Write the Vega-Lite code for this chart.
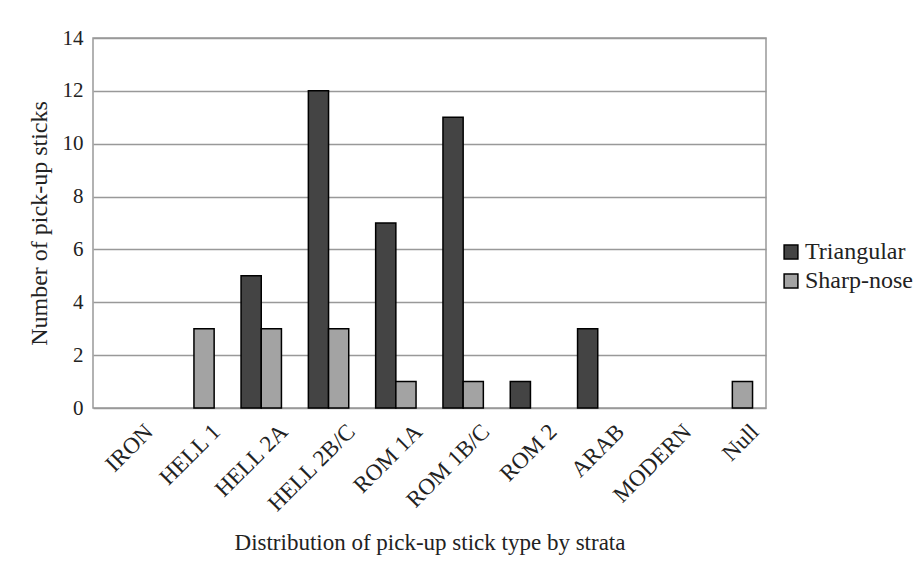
{
  "$schema": "https://vega.github.io/schema/vega-lite/v6.json",
  "width": 673,
  "height": 370,
  "autosize": {"type": "none"},
  "padding": {"left": 93, "top": 38, "right": 156, "bottom": 154},
  "background": "white",
  "config": {
    "font": "Liberation Serif",
    "view": {"stroke": "#999999", "strokeWidth": 1.5},
    "axis": {"labelFont": "Liberation Serif", "titleFont": "Liberation Serif", "labelColor": "#222", "titleColor": "#222", "titleFontWeight": "normal"},
    "legend": {"labelFont": "Liberation Serif"}
  },
  "data": {
    "values": [
      {"strata": "HELL 1", "type": "Sharp-nose", "count": 3},
      {"strata": "HELL 2A", "type": "Triangular", "count": 5},
      {"strata": "HELL 2A", "type": "Sharp-nose", "count": 3},
      {"strata": "HELL 2B/C", "type": "Triangular", "count": 12},
      {"strata": "HELL 2B/C", "type": "Sharp-nose", "count": 3},
      {"strata": "ROM 1A", "type": "Triangular", "count": 7},
      {"strata": "ROM 1A", "type": "Sharp-nose", "count": 1},
      {"strata": "ROM 1B/C", "type": "Triangular", "count": 11},
      {"strata": "ROM 1B/C", "type": "Sharp-nose", "count": 1},
      {"strata": "ROM 2", "type": "Triangular", "count": 1},
      {"strata": "ARAB", "type": "Triangular", "count": 3},
      {"strata": "Null", "type": "Sharp-nose", "count": 1}
    ]
  },
  "mark": {"type": "bar", "stroke": "black", "strokeWidth": 1.5},
  "encoding": {
    "x": {
      "field": "strata",
      "type": "nominal",
      "sort": ["IRON", "HELL 1", "HELL 2A", "HELL 2B/C", "ROM 1A", "ROM 1B/C", "ROM 2", "ARAB", "MODERN", "Null"],
      "scale": {"domain": ["IRON", "HELL 1", "HELL 2A", "HELL 2B/C", "ROM 1A", "ROM 1B/C", "ROM 2", "ARAB", "MODERN", "Null"], "paddingInner": 0.4, "paddingOuter": 0.2},
      "axis": {
        "title": "Distribution of pick-up stick type by strata",
        "titleFontSize": 23,
        "titleY": 123,
        "labelAngle": -45,
        "labelFontSize": 23,
        "labelPadding": 12,
        "labelOffset": 15,
        "labelOverlap": false,
        "ticks": false,
        "domain": false,
        "grid": false
      }
    },
    "xOffset": {"field": "type", "type": "nominal", "sort": ["Triangular", "Sharp-nose"], "scale": {"domain": ["Triangular", "Sharp-nose"], "paddingInner": 0}},
    "y": {
      "field": "count",
      "type": "quantitative",
      "scale": {"domain": [0, 14]},
      "axis": {
        "title": "Number of pick-up sticks",
        "titleFontSize": 24,
        "titlePadding": 11,
        "labelFontSize": 21,
        "labelPadding": 10,
        "labelOverlap": false,
        "values": [0, 2, 4, 6, 8, 10, 12, 14],
        "ticks": false,
        "domain": false,
        "grid": true,
        "gridColor": "#999999",
        "gridWidth": 1.5,
        "gridOpacity": 1
      }
    },
    "color": {
      "field": "type",
      "type": "nominal",
      "scale": {"domain": ["Triangular", "Sharp-nose"], "range": ["#444444", "#a3a3a3"]},
      "legend": {
        "title": null,
        "orient": "none",
        "legendX": 686,
        "legendY": 202,
        "symbolType": "square",
        "symbolSize": 190,
        "symbolStrokeColor": "black",
        "symbolStrokeWidth": 1.5,
        "labelFontSize": 24,
        "labelColor": "#222",
        "rowPadding": 5,
        "labelOffset": 2
      }
    }
  }
}
